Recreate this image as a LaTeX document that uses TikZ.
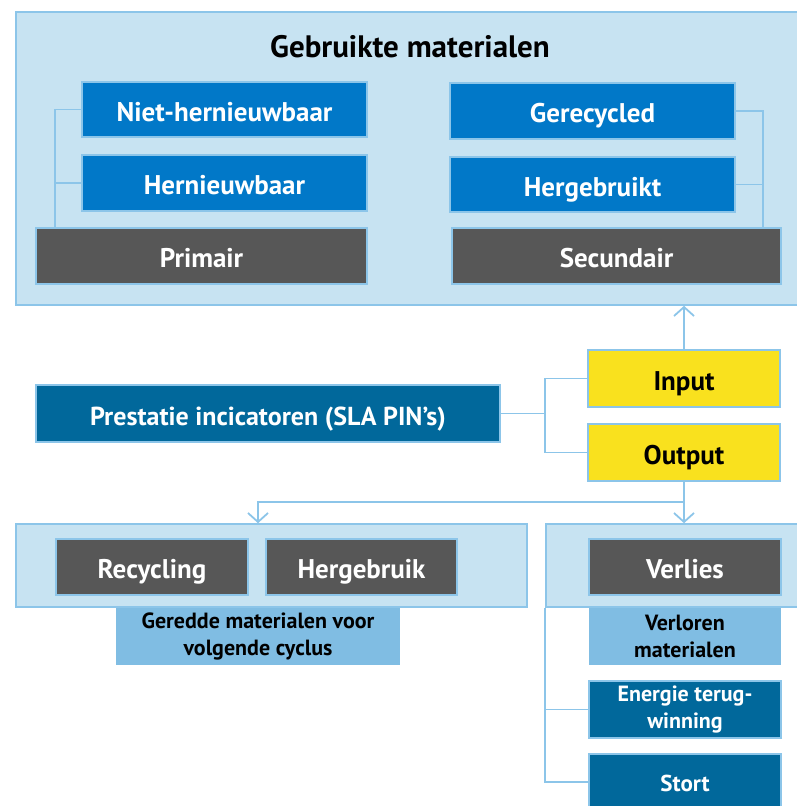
\documentclass[tikz,border=0pt]{standalone}
\usepackage{fontspec}
\setmainfont{PT Sans}
\usetikzlibrary{arrows.meta}
\definecolor{bgblue}{HTML}{C7E3F2}
\definecolor{lineblue}{HTML}{8CC5E9}
\definecolor{midblue}{HTML}{80BDE3}
\definecolor{brightblue}{HTML}{0178C8}
\definecolor{darkblue}{HTML}{01689B}
\definecolor{greybox}{HTML}{575757}
\definecolor{yellowbox}{HTML}{F9E11E}
\tikzset{
  base/.style={rectangle, inner sep=0pt, align=center, font=\bfseries\fontsize{27}{30}\selectfont, text height=23pt, text depth=0pt, draw=lineblue, line width=1.6pt},
  container/.style={base, fill=bgblue},
  bluebox/.style={base, fill=brightblue, text=white},
  greybox/.style={base, fill=greybox, text=white},
  darkbox/.style={base, fill=darkblue, text=white},
  yelbox/.style={base, fill=yellowbox, text=black},
  twoline/.style={text height=, text depth=, font=\bfseries\fontsize{22}{27}\selectfont},
  labelbox/.style={rectangle, inner sep=0pt, align=center, fill=midblue, text=black, twoline},
  conn/.style={draw=lineblue, line width=1.8pt},
  arr/.style={conn, -{Straight Barb[length=9pt,width=20pt,line width=1.8pt]}}
}
\begin{document}
\begin{tikzpicture}[x=1pt,y=-1pt]
\useasboundingbox (0,0) rectangle (796,806);
% top container
\node[container, minimum width=784pt, minimum height=293pt] (top) at (408,158.5) {};
\node[font=\bfseries\fontsize{31}{34}\selectfont, text=black, inner sep=0pt] (title) at (410,47) {Gebruikte materialen};
\node[bluebox, minimum width=285pt, minimum height=55pt] (niet) at (224.5,109.5) {Niet-hernieuwbaar};
\node[bluebox, minimum width=285pt, minimum height=56pt] (hern) at (224.5,183) {Hernieuwbaar};
\node[greybox, minimum width=331pt, minimum height=56pt] (prim) at (201.5,256) {Primair};
\node[bluebox, minimum width=285pt, minimum height=56pt] (gerec) at (592.5,111) {Gerecycled};
\node[bluebox, minimum width=285pt, minimum height=55pt] (hergb) at (592.5,184.5) {Hergebruikt};
\node[greybox, minimum width=329pt, minimum height=56pt] (secu) at (616.5,256) {Secundair};
\coordinate (pl) at (55,228);
\coordinate (pr) at (763,228);
\draw[conn] (niet.west) -| (pl);
\draw[conn] (hern.west) -- (hern.west -| pl);
\draw[conn] (gerec.east) -| (pr);
\draw[conn] (hergb.east) -- (hergb.east -| pr);
% middle
\node[darkbox, minimum width=464pt, minimum height=57pt, font=\bfseries\fontsize{26}{30}\selectfont] (prest) at (268,413.5) {Prestatie incicatoren (SLA PIN’s)};
\node[yelbox, minimum width=192pt, minimum height=57pt] (input) at (684,378.5) {Input};
\node[yelbox, minimum width=192pt, minimum height=57pt] (output) at (684,452.5) {Output};
\coordinate (j) at (545,413.5);
\draw[conn] (prest.east) -- (j);
\draw[conn] (input.west) -| (j) |- (output.west);
\draw[arr] (input.north) -- (input.north |- top.south);
% bottom left
\node[container, minimum width=511pt, minimum height=83pt] (botL) at (271.5,565.5) {};
\node[greybox, minimum width=192pt, minimum height=56pt] (recyc) at (152,567) {Recycling};
\node[greybox, minimum width=191pt, minimum height=56pt] (hergbk) at (361.5,567) {Hergebruik};
\node[labelbox, minimum width=284pt, minimum height=57pt] (geredde) at (258,636.5) {Geredde materialen voor\\volgende cyclus};
% bottom right
\node[container, minimum width=254pt, minimum height=83pt] (botR) at (673,565.5) {};
\node[greybox, minimum width=192pt, minimum height=56pt] (verlies) at (685,567) {Verlies};
\node[labelbox, minimum width=192pt, minimum height=57pt] (verloren) at (685,636.5) {Verloren\\materialen};
\node[darkbox, minimum width=192pt, minimum height=57pt, twoline] (energie) at (685,709.5) {Energie terug-\\winning};
\node[darkbox, minimum width=192pt, minimum height=56pt, font=\bfseries\fontsize{23}{26}\selectfont, text height=19pt, text depth=0pt] (stort) at (685,782) {Stort};
% output arrows
\coordinate (k) at (684,502);
\draw[arr] (output.south) -- (output.south |- botR.north);
\draw[arr] (k) -| (geredde.center |- botL.north);
% right bottom connector
\draw[conn] (botR.south west) |- (stort.west);
\draw[conn] (energie.west) -- (energie.west -| botR.south west);
\end{tikzpicture}
\end{document}
